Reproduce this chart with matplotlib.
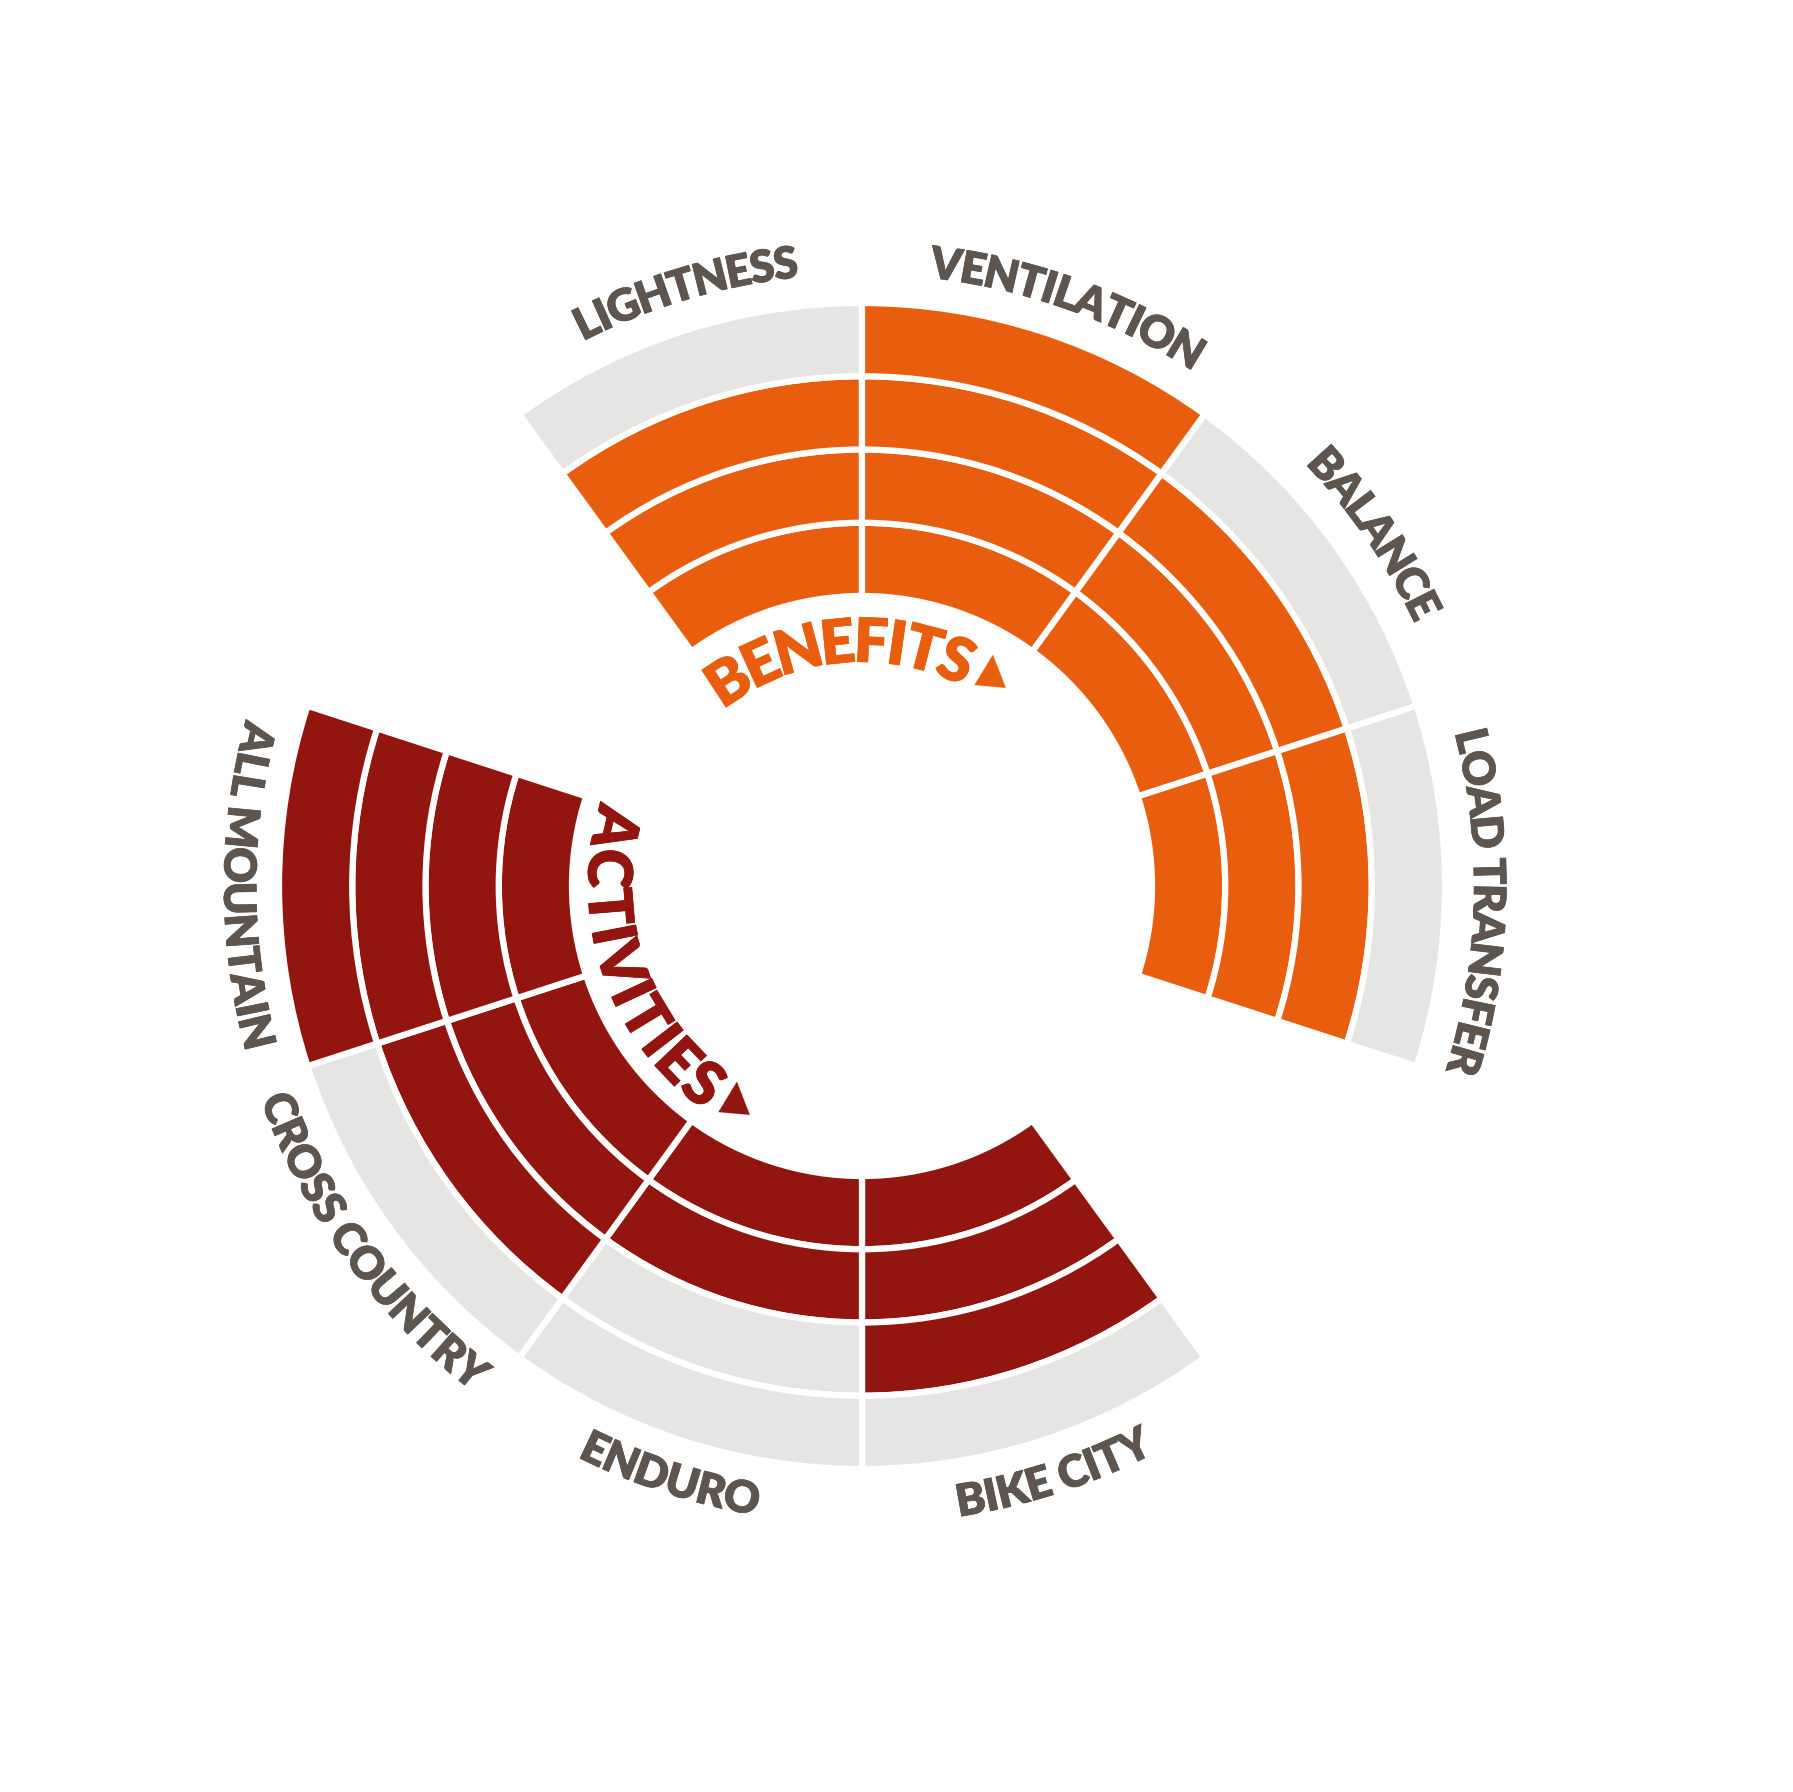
import numpy as np
import matplotlib
matplotlib.use("Agg")
import matplotlib.pyplot as plt
import matplotlib.patheffects as pe
from matplotlib.font_manager import FontProperties, findfont
from matplotlib.ft2font import FT2Font

# --- data -------------------------------------------------------------
benefits = ["LIGHTNESS", "VENTILATION", "BALANCE", "LOAD TRANSFER"]
benefit_scores = [3, 4, 3, 3]
activities = ["BIKE CITY", "ENDURO", "CROSS COUNTRY", "ALL MOUNTAIN"]
activity_scores = [3, 2, 3, 4]
levels = [1, 2, 3, 4]

ORANGE = "#e95e0e"
RED = "#92150f"
GREY = "#e6e5e3"
TEXT = "#5d554e"

# --- layout -----------------------------------------------------------
W, H = 1793, 1792
cx, cy = 862, 886      # chart centre, px from top-left
R = 700                # axes radius in px, r units == px
seg = 36               # degrees per sector
benefit_start = -36
activity_start = 144
r0, ring = 290, 73.25
label_r = 625
FONT = "Lato"
WEIGHT = "heavy"
STROKE = 0.5

fig = plt.figure(figsize=(W / 100, H / 100), dpi=100)
ax = fig.add_axes([(cx - R) / W, (H - cy - R) / H, 2 * R / W, 2 * R / H],
                  projection="polar")
ax.set_theta_zero_location("N")
ax.set_theta_direction(-1)
ax.set_ylim(0, R)
ax.axis("off")


def draw_group(start, scores, color):
    theta = np.deg2rad(start + seg * (np.arange(len(scores)) + 0.5))
    for lvl in levels:
        colors = [color if s >= lvl else GREY for s in scores]
        ax.bar(theta, ring, width=np.deg2rad(seg), bottom=r0 + (lvl - 1) * ring,
               color=colors, edgecolor="white", linewidth=4.5)


def advances(s, size):
    prop = FontProperties(family=FONT, weight=WEIGHT, size=size)
    font = FT2Font(findfont(prop))
    font.set_size(size, 100)
    return np.array([font.load_char(ord(c)).linearHoriAdvance / 65536 for c in s])


def arc_text(s, center, radius, size, color, outward=True, track=1.0):
    adv = advances(s, size) * track
    pos = np.cumsum(adv) - adv / 2 - adv.sum() / 2
    sign = 1 if outward else -1
    for ch, p in zip(s, pos):
        ang = center + sign * np.rad2deg(p / radius)
        rot = -ang if outward else 180 - ang
        ax.text(np.deg2rad(ang), radius, ch, rotation=rot, rotation_mode="anchor",
                ha="center", va="center", fontsize=size, fontweight=WEIGHT,
                family=FONT, color=color,
                path_effects=[pe.withStroke(linewidth=STROKE, foreground=color)])


draw_group(benefit_start, benefit_scores, ORANGE)
draw_group(activity_start, activity_scores, RED)

for i, name in enumerate(benefits):
    arc_text(name, benefit_start + seg * (i + 0.5) + 1.5, label_r, 32, TEXT,
             outward=True, track=0.96)
for i, name in enumerate(activities):
    arc_text(name, activity_start + seg * (i + 0.5), label_r, 32, TEXT,
             outward=False, track=0.96)

arc_text("BENEFITS", -5.6, 242, 44, ORANGE, outward=True, track=0.96)
arc_text("ACTIVITIES", 251.5, 256, 44, RED, outward=False)

# small pointer triangles after the group titles
ax.text(np.deg2rad(31), 252, "\u25B2", rotation=-5, ha="center", va="center",
        fontsize=30, color=ORANGE, family="DejaVu Sans")
ax.text(np.deg2rad(211), 246, "\u25B2", rotation=-5, ha="center", va="center",
        fontsize=30, color=RED, family="DejaVu Sans")

fig.savefig("out.png", dpi=100, facecolor="white")
